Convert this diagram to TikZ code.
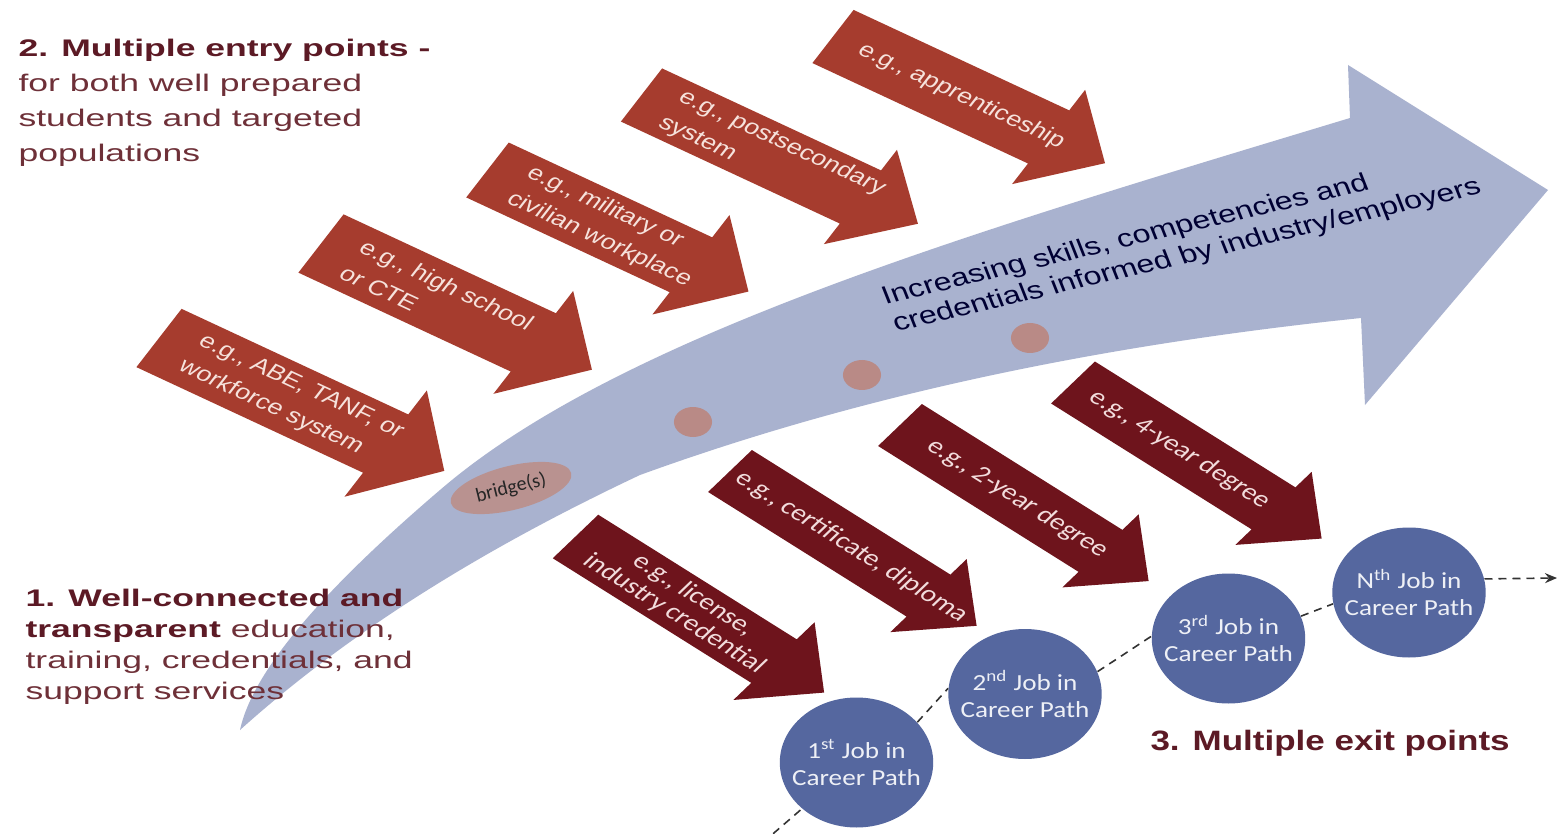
\documentclass[tikz,border=0pt]{standalone}
\usepackage{fontspec}
\setmainfont{Liberation Sans}
\newfontfamily\calib{Carlito}
\usetikzlibrary{shapes.geometric,arrows.meta}

\definecolor{entryred}{HTML}{A63C2E}
\definecolor{exitred}{HTML}{6E141C}
\definecolor{pathblue}{HTML}{A9B2CF}
\definecolor{jobblue}{HTML}{55679F}
\definecolor{dotrose}{HTML}{B98A86}
\definecolor{bridgerose}{HTML}{B99290}
\definecolor{headbold}{HTML}{5C1A25}
\definecolor{headreg}{HTML}{6E3038}
\definecolor{entrytext}{HTML}{F6E2DC}
\definecolor{exittext}{HTML}{F2DCDC}
\definecolor{jobtext}{HTML}{EEF0F6}

% x, y (tail centre), angle, half shaft width, head start, head half width, length, fill style, label node
\newcommand{\blockarrow}[9]{%
  \begin{scope}[shift={(#1,#2)}, xscale=1.29, rotate=#3]
    \fill[#8] (0,-#4) -- (#5,-#4) -- (#5,-#6) -- (#7,0) -- (#5,#6) -- (#5,#4) -- (0,#4) -- cycle;
    #9
  \end{scope}}

\tikzset{
  entryfill/.style={fill=entryred},
  exitfill/.style={fill=exitred},
  entrylabel/.style={transform shape, anchor=west, text=entrytext, align=left, inner sep=0pt,
    font=\fontsize{10.5}{15}\selectfont},
  exitlabel/.style={transform shape, anchor=center, text=exittext, align=center, inner sep=0pt,
    font=\calib\fontsize{11.5}{12}\selectfont},
  heading/.style={align=left, inner sep=0pt, text=headreg, xscale=1.48,
    font=\fontsize{12}{17.5}\selectfont},
  job/.style={circle, fill=jobblue, minimum size=65pt, inner sep=0pt, xscale=1.18,
    text=jobtext, align=center, font=\calib\fontsize{11.5}{13.5}\selectfont},
  dot/.style={circle, fill=dotrose, minimum size=15pt, inner sep=0pt, xscale=1.27},
  bridgeshape/.style={ellipse, fill=bridgerose, minimum width=62pt, minimum height=22pt,
    inner sep=0pt, rotate=14, font=\calib\fontsize{10}{12}\selectfont, text=black!85},
  maintext/.style={align=left, inner sep=0pt, text=black!80!blue,
    font=\fontsize{12.5}{14.5}\selectfont},
  careerline/.style={draw=black!80, line width=0.8pt, dash pattern=on 4pt off 3pt}
}

\begin{document}
\begin{tikzpicture}[x=0.5pt,y=-0.5pt]
\useasboundingbox (0,0) rectangle (1559,834);
\clip (0,0) rectangle (1559,834);
\fill[white] (0,0) rectangle (1559,834);

% main curved arrow
\fill[pathblue] (240,730) .. controls (255,660) and (350,567) .. (440,490)
  .. controls (620,335) and (980,230) .. (1350,118)
  -- (1348,65) -- (1548,190) -- (1365,405) -- (1361,318)
  .. controls (1100,345) and (860,395) .. (640,475)
  .. controls (470,555) and (340,640) .. (240,730) -- cycle;

\node[dot] (d1) at (693,422) {};
\node[dot] (d2) at (862,375) {};
\node[dot] (d3) at (1030,338) {};
\node[bridgeshape] (bridge) at (511,488) {bridge(s)};

\node[maintext, anchor=west, xscale=1.29, rotate=17] (skills) at (888,312)
  {Increasing skills, competencies and\\credentials informed by industry/employers};

% entry arrows
\blockarrow{159}{338}{-31}{34}{205}{62}{258}{entryfill}{\node[entrylabel] (abe) at (28,0) {e.g., ABE, TANF, or\\workforce system};}
\blockarrow{321}{243.5}{-31}{34}{192}{60}{245}{entryfill}{\node[entrylabel] (hs) at (28,0) {e.g., high school\\or CTE};}
\blockarrow{487.5}{170}{-31}{32}{184}{58}{236}{entryfill}{\node[entrylabel] (mil) at (28,0) {e.g., military or\\civilian workplace};}
\blockarrow{641.5}{95}{-31}{31}{198}{55}{250}{entryfill}{\node[entrylabel] (pse) at (26,0) {e.g., postsecondary\\system};}
\blockarrow{833}{36.5}{-31}{31}{195}{55}{246}{entryfill}{\node[entrylabel] (app) at (24,0) {e.g., apprenticeship};}

% exit arrows
\blockarrow{575.5}{536.5}{-39}{28}{198}{50}{248}{exitfill}{\node[exitlabel] (lic) at (108,0) {e.g., license,\\industry credential};}
\blockarrow{730}{471}{-39}{27}{198}{47}{246}{exitfill}{\node[exitlabel] (cert) at (121,0) {e.g., certificate, diploma};}
\blockarrow{900}{425}{-39}{27}{200}{47}{248}{exitfill}{\node[exitlabel] (two) at (117,0) {e.g., 2-year degree};}
\blockarrow{1073}{382.5}{-39}{27}{200}{47}{248}{exitfill}{\node[exitlabel] (four) at (106,0) {e.g., 4-year degree};}

% jobs
\node[job] (c1) at (856.5,762.5) {1\textsuperscript{st} Job in\\Career Path};
\node[job] (c2) at (1025,694) {2\textsuperscript{nd} Job in\\Career Path};
\node[job] (c3) at (1228.5,638.5) {3\textsuperscript{rd} Job in\\Career Path};
\node[job] (cN) at (1409,592.5) {N\textsuperscript{th} Job in\\Career Path};

\coordinate (pathstart) at (752,852);
\coordinate (pathend) at (1557,578);
\draw[careerline] (pathstart) -- (c1.225);
\draw[careerline] (c1.38) -- (c2.175);
\draw[careerline] (c2.20) -- (c3.178);
\draw[careerline] (c3.20) -- (cN.190);
\draw[careerline, -{Stealth[length=6pt,width=5pt]}] (cN.12) -- (pathend);

% headings
\node[heading, anchor=north west] (entryhead) at (18,39)
  {\textbf{\color{headbold}2. Multiple entry points -}\\for both well prepared\\students and targeted\\populations};
\node[heading, font=\fontsize{12}{15.5}\selectfont, anchor=north west] (pathhead) at (25,589)
  {\textbf{\color{headbold}1. Well-connected and}\\\textbf{\color{headbold}transparent} education,\\training, credentials, and\\support services};
\node[anchor=base west, inner sep=0pt, text=headbold, xscale=1.25,
  font=\bfseries\fontsize{14}{16}\selectfont] (exithead) at (1150,750) {3. Multiple exit points};
\end{tikzpicture}
\end{document}
